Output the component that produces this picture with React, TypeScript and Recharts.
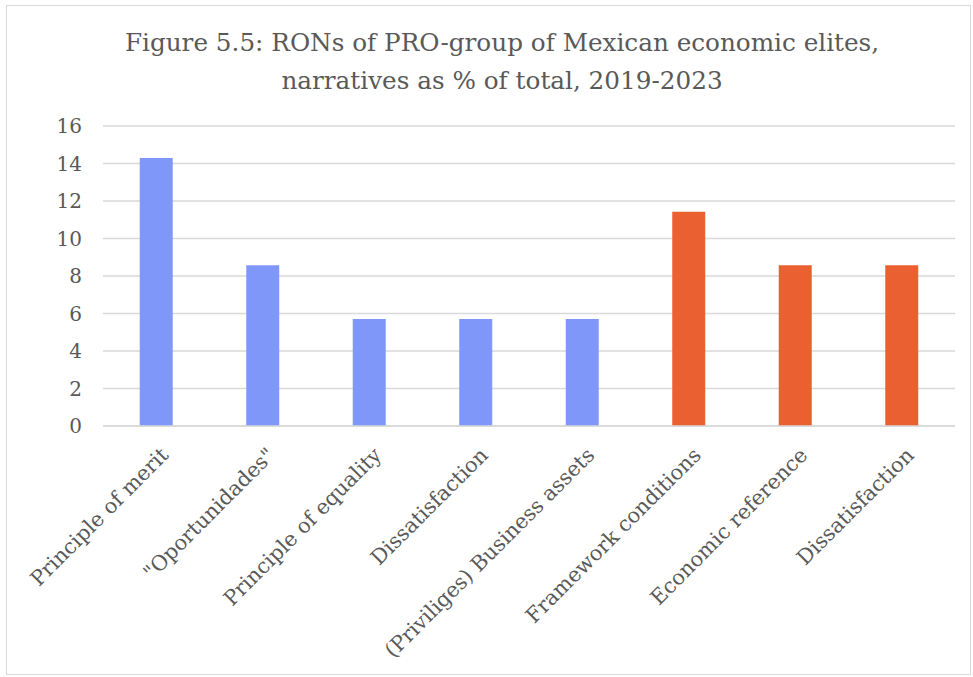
import { BarChart, Bar, XAxis, YAxis, CartesianGrid, Cell } from 'recharts';

// Narrative categories, in the order they are charted
const categories = [
  'Principle of merit',
  '"Oportunidades"',
  'Principle of equality',
  'Dissatisfaction',
  '(Priviliges) Business assets',
  'Framework conditions',
  'Economic reference',
  'Dissatisfaction',
];

// Share of all narratives, in %
const shares = [14.29, 8.57, 5.71, 5.71, 5.71, 11.43, 8.57, 8.57];

// first five belong to the blue group, last three to the orange group
const groups = ['a', 'a', 'a', 'a', 'a', 'b', 'b', 'b'];

const yTicks = [0, 2, 4, 6, 8, 10, 12, 14, 16];

const COLORS: Record<string, string> = { a: '#7F97F9', b: '#EB6031' };
const TEXT = '#595959';
const GRID = '#D9D9D9';
const FONT = '"DejaVu Serif", serif';

const data = categories.map((name, i) => ({ key: `${i}`, name, value: shares[i], group: groups[i] }));

function CategoryTick(props: any) {
  const { x, y, payload } = props;
  const label = data[payload.index]?.name ?? '';
  const tx = x + 3;
  const ty = y + 12;
  return (
    <text
      x={tx}
      y={ty}
      transform={`rotate(-45, ${tx}, ${ty})`}
      textAnchor="end"
      dy="0.71em"
      fill={TEXT}
      fontSize={20.8}
      fontFamily={FONT}
    >
      {label}
    </text>
  );
}

export default function App() {
  return (
    <div style={{ position: 'absolute', left: 0, top: 0, width: 973, height: 677, background: '#fff' }}>
      <div
        style={{
          position: 'absolute', left: 6, top: 5, width: 965, height: 670,
          border: '1.5px solid #D9D9D9', boxSizing: 'border-box',
        }}
      />
      <div
        style={{
          position: 'absolute', left: 0, top: 24, width: 1004, textAlign: 'center',
          fontFamily: FONT, fontSize: 24.7, lineHeight: '38px', color: TEXT,
        }}
      >
        Figure 5.5: RONs of PRO-group of Mexican economic elites,
        <br />
        narratives as % of total, 2019-2023
      </div>
      <div style={{ position: 'absolute', left: 0, top: 0 }}>
        <BarChart
          width={973}
          height={677}
          data={data}
          margin={{ top: 126, right: 18, bottom: 51, left: 43 }}
          barCategoryGap="34.5%"
        >
          <CartesianGrid vertical={false} stroke={GRID} strokeWidth={1.5} />
          <XAxis
            dataKey="key"
            interval={0}
            height={200}
            axisLine={{ stroke: GRID, strokeWidth: 1.5 }}
            tickLine={false}
            tick={<CategoryTick />}
          />
          <YAxis
            domain={[0, 16]}
            ticks={yTicks}
            width={60}
            axisLine={false}
            tickLine={false}
            tickSize={0}
            tickMargin={21}
            tick={{ fill: TEXT, fontSize: 20, fontFamily: FONT }}
          />
          <Bar dataKey="value" isAnimationActive={false}>
            {data.map((d) => (
              <Cell key={d.key} fill={COLORS[d.group]} />
            ))}
          </Bar>
        </BarChart>
      </div>
    </div>
  );
}
